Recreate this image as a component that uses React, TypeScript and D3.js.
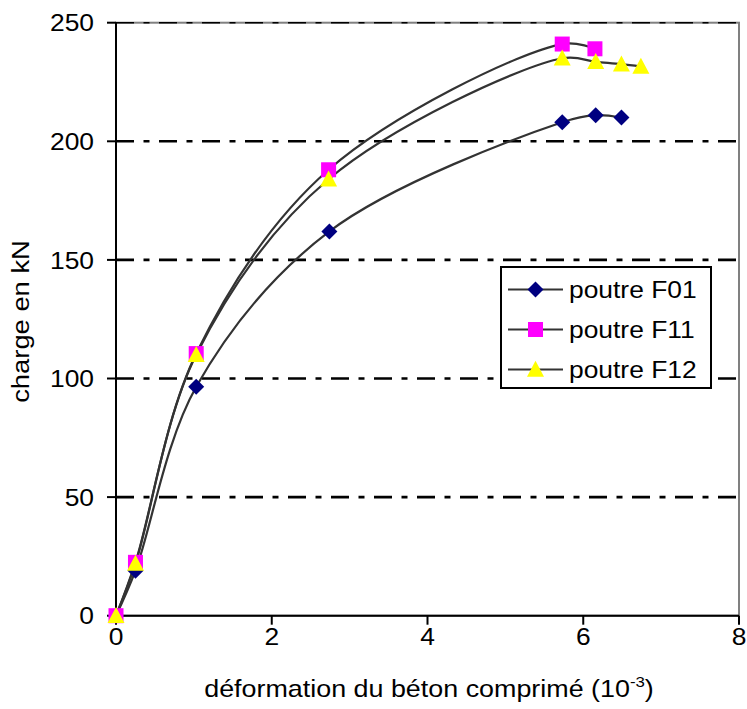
import React from "react";
import * as d3 from "d3";

// Load–strain measurements for the three beams
const strainF01 = [0, 0.25, 1.03, 2.74, 5.73, 6.16, 6.49];
const loadF01 = [0, 19, 96.5, 162, 208, 211, 210];
const strainF11 = [0, 0.25, 1.03, 2.73, 5.73, 6.15];
const loadF11 = [0, 22.5, 110.5, 188, 241, 239];
const strainF12 = [0, 0.25, 1.03, 2.73, 5.73, 6.16, 6.49, 6.74];
const loadF12 = [0, 22, 110, 184, 235, 233.5, 232.5, 231.5];

const seriesNames = ["poutre F01", "poutre F11", "poutre F12"];
const xTicks = [0, 2, 4, 6, 8];
const yTicks = [0, 50, 100, 150, 200, 250];
const gridValues = [50, 100, 150, 200, 250];

const W = 747;
const H = 709;
const left = 116;
const right = 739;
const top = 22.7;
const bottom = 615.7;
const FONT = "'Liberation Sans', Arial, sans-serif";
const FS = 24;

type Pt = [number, number];
const zip = (xs: number[], ys: number[]): Pt[] => xs.map((x, i) => [x, ys[i]]);

const series = [
  { name: seriesNames[0], pts: zip(strainF01, loadF01), shape: "diamond", fill: "#000080" },
  { name: seriesNames[1], pts: zip(strainF11, loadF11), shape: "square", fill: "#FF00FF" },
  { name: seriesNames[2], pts: zip(strainF12, loadF12), shape: "triangle", fill: "#FFFF00" },
];

function Marker({ shape, fill, x, y }: { shape: string; fill: string; x: number; y: number }) {
  if (shape === "diamond") {
    const r = 8;
    return <path d={`M${x},${y - r}L${x + r},${y}L${x},${y + r}L${x - r},${y}Z`} fill={fill} />;
  }
  if (shape === "square") {
    const s = 7.5;
    return <rect x={x - s} y={y - s} width={2 * s} height={2 * s} fill={fill} />;
  }
  const h = 16;
  const w = 17;
  return (
    <path
      d={`M${x},${y - h * 0.55}L${x + w / 2},${y + h * 0.45}L${x - w / 2},${y + h * 0.45}Z`}
      fill={fill}
    />
  );
}

// Text drawn with a slightly widened face
function WideText({
  x,
  y,
  sx = 1.1,
  rotate = 0,
  anchor = "start",
  dy,
  children,
}: {
  x: number;
  y: number;
  sx?: number;
  rotate?: number;
  anchor?: string;
  dy?: string;
  children: React.ReactNode;
}) {
  return (
    <g transform={`translate(${x},${y}) rotate(${rotate}) scale(${sx},1)`}>
      <text x={0} y={0} dy={dy} textAnchor={anchor} fontSize={FS} fill="#000">
        {children}
      </text>
    </g>
  );
}

export default function App() {
  const xScale = d3.scaleLinear().domain([0, 8]).range([left, right]);
  const yScale = d3.scaleLinear().domain([0, 250]).range([bottom, top]);
  const line = d3
    .line<Pt>()
    .x((d) => xScale(d[0]))
    .y((d) => yScale(d[1]))
    .curve(d3.curveCatmullRom.alpha(0.5));

  const legendX = 501;
  const legendY = 267;
  const legendRows = [289.5, 329.5, 369.5];

  return (
    <svg
      width={W}
      height={H}
      style={{ position: "absolute", left: 0, top: 0, background: "#fff" }}
      fontFamily={FONT}
    >
      <rect x={0} y={0} width={W} height={H} fill="#fff" />
      {/* plot frame */}
      <rect
        x={left}
        y={top}
        width={right - left}
        height={bottom - top}
        fill="none"
        stroke="#808080"
        strokeWidth={2}
      />
      {/* dash-dot gridlines */}
      {gridValues.map((v) => (
        <line
          key={v}
          x1={left}
          x2={right}
          y1={yScale(v)}
          y2={yScale(v)}
          stroke="#000"
          strokeWidth={v === 250 ? 1.5 : 2.6}
          strokeDasharray="18 9.5 6 9.5"
        />
      ))}
      {/* axes */}
      <line x1={left} x2={left} y1={top} y2={bottom} stroke="#000" strokeWidth={2} />
      <line x1={left} x2={right} y1={bottom} y2={bottom} stroke="#000" strokeWidth={2} />
      {yTicks.map((v) => (
        <g key={v}>
          <line x1={left - 9} x2={left} y1={yScale(v)} y2={yScale(v)} stroke="#000" strokeWidth={2} />
          <WideText x={94} y={yScale(v)} dy="0.36em" anchor="end">
            {v}
          </WideText>
        </g>
      ))}
      {xTicks.map((v) => (
        <g key={v}>
          <line x1={xScale(v)} x2={xScale(v)} y1={bottom} y2={bottom + 9} stroke="#000" strokeWidth={2} />
          <WideText x={xScale(v)} y={644.5} anchor="middle">
            {v}
          </WideText>
        </g>
      ))}
      {/* axis titles */}
      <WideText x={28.5} y={321.5} rotate={-90} sx={1.14} anchor="middle">
        charge en kN
      </WideText>
      <WideText x={429} y={697} sx={1.12} anchor="middle">
        déformation du béton comprimé (10
        <tspan fontSize={15} dy={-10}>-3</tspan>
        <tspan dy={10}>)</tspan>
      </WideText>
      {/* curves */}
      {series.map((s) => (
        <path key={s.name} d={line(s.pts) || ""} fill="none" stroke="#333" strokeWidth={2.2} />
      ))}
      {/* markers */}
      {series.map((s) => (
        <g key={s.name}>
          {s.pts.map((p, i) => (
            <Marker key={i} shape={s.shape} fill={s.fill} x={xScale(p[0])} y={yScale(p[1])} />
          ))}
        </g>
      ))}
      {/* legend */}
      <rect x={legendX} y={legendY} width={210} height={121} fill="#fff" stroke="#000" strokeWidth={2} />
      {series.map((s, i) => (
        <g key={s.name}>
          <line x1={508} x2={563} y1={legendRows[i]} y2={legendRows[i]} stroke="#333" strokeWidth={2.2} />
          <Marker shape={s.shape} fill={s.fill} x={535.5} y={legendRows[i]} />
          <WideText x={569} y={legendRows[i]} dy="0.36em" sx={1.1}>
            {s.name}
          </WideText>
        </g>
      ))}
    </svg>
  );
}
